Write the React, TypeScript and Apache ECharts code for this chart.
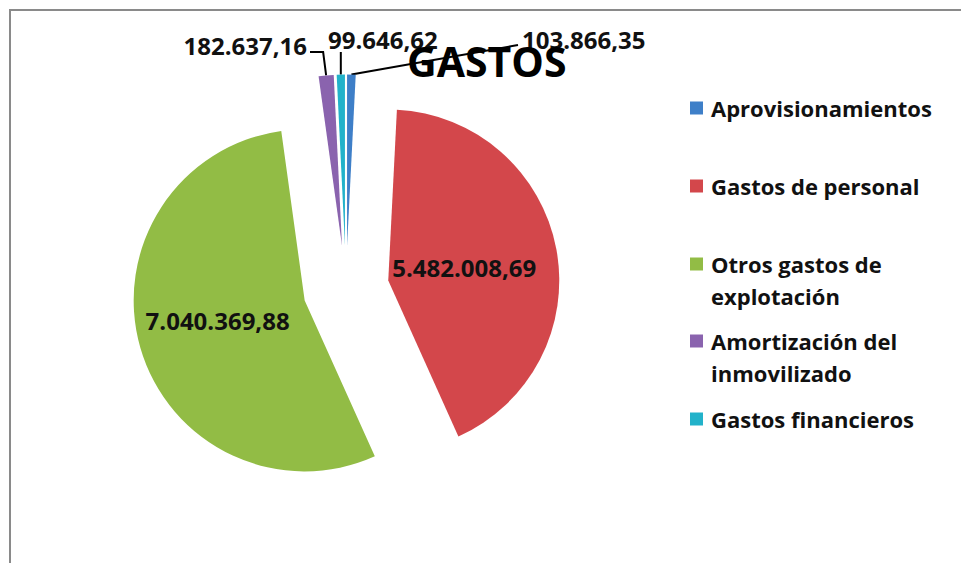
import React, { useEffect, useRef } from "react";
import * as echarts from "echarts";

const categories = [
  "Aprovisionamientos",
  "Gastos de personal",
  "Otros gastos de explotación",
  "Amortización del inmovilizado",
  "Gastos financieros",
];
const legendLabels = [
  "Aprovisionamientos",
  "Gastos de personal",
  "Otros gastos de\nexplotación",
  "Amortización del\ninmovilizado",
  "Gastos financieros",
];
const values = [103866.35, 5482008.69, 7040369.88, 182637.16, 99646.62];
const colors = ["#3E7FC8", "#D3474B", "#92BC45", "#8A63AE", "#22B2CA"];
const titleText = "GASTOS";

const FONT = "Open Sans";
const CX = 346;
const CY = 288.5;
const R = 171;
const OFF = 43;

// label placement for the small outside slices
const outsideLabels: Record<number, { x: number; y: number; align: string }> = {
  0: { x: 522, y: 39, align: "left" },
  3: { x: 307, y: 45, align: "right" },
  4: { x: 328, y: 39, align: "left" },
};
// small nudges for the inside labels
const insideNudge: Record<number, { dx: number; dy: number }> = {
  1: { dx: -11, dy: 3 },
  2: { dx: -2, dy: -4 },
};

function fmt(v: number): string {
  const [i, d] = v.toFixed(2).split(".");
  return i.replace(/\B(?=(\d{3})+(?!\d))/g, ".") + "," + d;
}

export default function App() {
  const ref = useRef<HTMLDivElement>(null);
  useEffect(() => {
    if (!ref.current) return;
    const chart = echarts.init(ref.current, null, { renderer: "svg" });
    const total = values.reduce((a, b) => a + b, 0);
    const mids: number[] = [];
    let acc = 0;
    values.forEach((v) => {
      const a = (v / total) * Math.PI * 2;
      mids.push(acc + a / 2);
      acc += a;
    });
    const edge = (i: number) => [
      CX + (R + OFF) * Math.sin(mids[i]),
      CY - (R + OFF) * Math.cos(mids[i]),
    ];

    const legendTops = [92, 170, 216, 293, 403];
    const legends = categories.map((name, i) => ({
      orient: "vertical",
      left: 690,
      top: legendTops[i],
      padding: 0,
      itemWidth: 13,
      itemHeight: 13,
      icon: "rect",
      selectedMode: false,
      data: [{ name, itemStyle: { color: colors[i] } }],
      formatter: (n: string) => {
        const t = legendLabels[categories.indexOf(n)];
        return t.includes("\n") ? "\n" + t : t;
      },
      textStyle: {
        fontFamily: FONT,
        fontWeight: "bold",
        fontSize: 22,
        lineHeight: 32,
        color: "#111",
        padding: [0, 0, 0, 3],
      },
    }));

    const labelFont = {
      fontFamily: FONT,
      fontWeight: "bold",
      fontSize: 24,
      color: "#111",
    };

    const common = {
      type: "pie",
      center: [CX, CY],
      radius: R,
      startAngle: 90,
      clockwise: true,
      avoidLabelOverlap: false,
      emphasis: { disabled: true },
    };

    chart.setOption({
      animation: false,
      color: colors,
      title: {
        text: titleText,
        left: 407,
        top: 40,
        padding: 0,
        textStyle: { fontFamily: FONT, fontWeight: "bold", fontSize: 41, color: "#000" },
      },
      legend: legends,
      graphic: [
        {
          type: "rect",
          shape: { x: 10, y: 10, width: 1000, height: 700 },
          style: { fill: "none", stroke: "#8a8a8a", lineWidth: 2 },
          silent: true,
          z: -10,
        },
      ],
      series: [
        {
          ...common,
          selectedMode: "multiple",
          selectedOffset: OFF,
          itemStyle: { borderWidth: 0 },
          select: { itemStyle: { borderWidth: 0 } },
          label: {
            show: true,
            position: "inside",
            ...labelFont,
            formatter: (p: any) => fmt(p.value),
          },
          labelLine: { show: false },
          labelLayout: (p: any) => {
            const n = insideNudge[p.dataIndex];
            return n ? { dx: n.dx, dy: n.dy } : {};
          },
          data: categories.map((name, i) => ({
            name,
            value: values[i],
            selected: true,
            label: outsideLabels[i] ? { show: false } : undefined,
          })),
        },
        {
          ...common,
          silent: true,
          selectedMode: false,
          itemStyle: { color: "rgba(0,0,0,0)", borderWidth: 0 },
          label: {
            show: false,
            position: "outside",
            ...labelFont,
            formatter: (p: any) => fmt(p.value),
          },
          labelLine: { show: false, lineStyle: { color: "#000", width: 2 } },
          labelLayout: (p: any) => {
            const o = outsideLabels[p.dataIndex];
            if (!o) return {};
            const e = edge(p.dataIndex);
            let pts: number[][];
            if (p.dataIndex === 3) pts = [e, [e[0] - 3, 52], [o.x + 3, 52]];
            else if (p.dataIndex === 4) pts = [e, [e[0], 52]];
            else pts = [e, [o.x - 4, 45]];
            return {
              x: o.x,
              y: o.y,
              align: o.align,
              verticalAlign: "middle",
              labelLinePoints: pts,
            };
          },
          data: categories.map((name, i) => ({
            name,
            value: values[i],
            label: outsideLabels[i] ? { show: true } : undefined,
            labelLine: outsideLabels[i] ? { show: true, length: 10, length2: 10 } : undefined,
          })),
        },
      ],
    });
    return () => chart.dispose();
  }, []);
  return (
    <div
      ref={ref}
      style={{ position: "absolute", left: 0, top: 0, width: 961, height: 563, background: "#fff" }}
    />
  );
}
